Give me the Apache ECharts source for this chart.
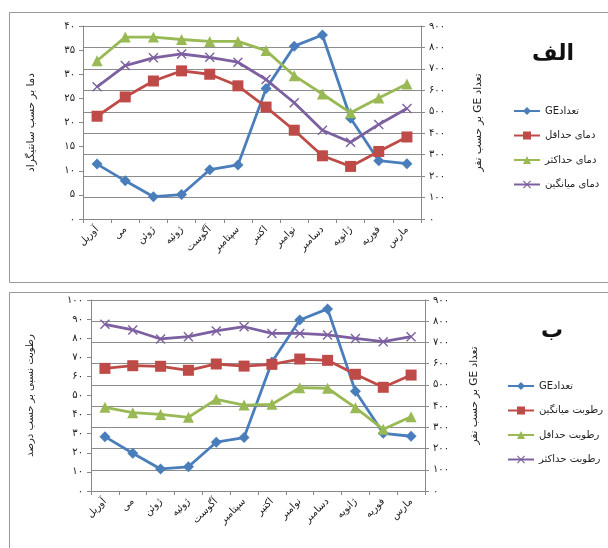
<!DOCTYPE html>
<html>
<head>
<meta charset="utf-8">
<script src="https://cdn.jsdelivr.net/npm/echarts@6/dist/echarts.min.js"></script>
<style>
html,body{margin:0;padding:0;background:#fff;}
#chart{width:608px;height:548px;direction:rtl;}
</style>
</head>
<body>
<div id="chart"></div>
<script>
// ---- data ----
const months = ['آوریل','می','ژوئن','ژوئیه','آگوست','سپتامبر','اکتبر','نوامبر','دسامبر','ژانویه','فوریه','مارس'];
const geCount = [256, 178, 104, 114, 230, 252, 608, 806, 858, 470, 272, 258];
const tempMin = [21.3, 25.3, 28.6, 30.7, 30.0, 27.6, 23.2, 18.4, 13.1, 10.9, 14.0, 17.0];
const tempMax = [32.8, 37.7, 37.7, 37.2, 36.8, 36.8, 34.9, 29.7, 25.9, 22.0, 25.1, 28.0];
const tempMean = [27.4, 31.8, 33.4, 34.2, 33.5, 32.5, 28.9, 24.1, 18.4, 15.9, 19.6, 22.9];
const humMean = [64.2, 65.6, 65.3, 63.2, 66.5, 65.4, 66.3, 69.1, 68.4, 61.1, 54.3, 60.7];
const humMin = [43.8, 41.0, 40.1, 38.6, 48.0, 45.0, 45.4, 54.1, 53.8, 43.6, 32.3, 38.9];
const humMax = [87.3, 84.3, 79.6, 80.8, 83.8, 86.0, 82.5, 82.5, 81.7, 79.9, 78.2, 80.8];
const legendTop = ['تعدادGE','دمای حداقل','دمای حداکثر','دمای میانگین'];
const legendBottom = ['تعدادGE','رطوبت میانگین','رطوبت حداقل','رطوبت حداکثر'];

const FONT = 'DejaVu Sans';
const faDigits = '۰۱۲۳۴۵۶۷۸۹';
function toFa(v){ return String(v).replace(/\d/g, d => faDigits[d]); }

const C_BLUE = '#4A7EBB', C_RED = '#BE4B48', C_GREEN = '#98B954', C_PURPLE = '#7D60A0';
const CROSS = 'path://M0,1 L1,0 L5,4 L9,0 L10,1 L6,5 L10,9 L9,10 L5,6 L1,10 L0,9 L4,5 Z';

const chart = echarts.init(document.getElementById('chart'), null, {renderer:'canvas'});

function yAxis(gridIndex, pos, min, max, interval, name, nameGap, split, nameSize){
  return {
    type:'value', gridIndex, position:pos, min, max, interval,
    name, nameLocation:'middle', nameRotate:90, nameGap,
    nameTextStyle:{fontFamily:FONT, fontSize:nameSize, color:'#222'},
    axisLine:{show:true, lineStyle:{color:'#888', width:1}},
    axisTick:{show:true, length:4, lineStyle:{color:'#888'}},
    axisLabel:{fontFamily:FONT, fontSize:10, color:'#222', formatter:v=>toFa(v), margin:8},
    splitLine:{show:split, lineStyle:{color:'#8c8c8c', width:1}}
  };
}
function xAxis(gridIndex){
  return {
    type:'category', gridIndex, data:months, boundaryGap:true,
    axisLine:{show:true, lineStyle:{color:'#888'}},
    axisTick:{show:true, length:4, lineStyle:{color:'#888'}},
    axisLabel:{fontFamily:FONT, fontSize:10, color:'#222', rotate:45, interval:0, margin:9},
    splitLine:{show:false}
  };
}
function line(name, data, xi, yi, color, symbol, size){
  return {
    type:'line', name, data, xAxisIndex:xi, yAxisIndex:yi,
    symbol, symbolSize:size, showSymbol:true,
    lineStyle:{color, width:2.8},
    itemStyle:{color},
    animation:false
  };
}

chart.setOption({
  animation:false,
  backgroundColor:'#fff',
  textStyle:{fontFamily:FONT},
  graphic:[
    {type:'rect', shape:{x:9.5, y:12.5, width:640, height:270}, style:{fill:'none', stroke:'#9a9a9a', lineWidth:1}},
    {type:'rect', shape:{x:9.5, y:292.5, width:640, height:280}, style:{fill:'none', stroke:'#9a9a9a', lineWidth:1}}
  ],
  title:[
    {text:'الف', left:527, top:38, textStyle:{fontFamily:FONT, fontSize:22, fontWeight:'bold', color:'#111'}},
    {text:'ب', left:536, top:315, textStyle:{fontFamily:FONT, fontSize:22, fontWeight:'bold', color:'#111'}}
  ],
  legend:[
    {data:legendTop, orient:'vertical', left:508, top:101, itemWidth:26, itemHeight:10, itemGap:14.5,
     textStyle:{fontFamily:FONT, fontSize:10, color:'#222'}, selectedMode:false},
    {data:legendBottom, orient:'vertical', left:502, top:376, itemWidth:26, itemHeight:10, itemGap:14.5,
     textStyle:{fontFamily:FONT, fontSize:10, color:'#222'}, selectedMode:false}
  ],
  grid:[
    {left:83, top:26, width:338, height:193},
    {left:91, top:300, width:334, height:191}
  ],
  xAxis:[xAxis(0), xAxis(1)],
  yAxis:[
    yAxis(0,'left',0,40,5,'دما بر حسب سانتیگراد',46,false,10.5),
    yAxis(0,'right',0,900,100,'تعداد GE بر حسب نفر',52,true,10.5),
    yAxis(1,'left',0,100,10,'رطوبت نسبی بر حسب درصد',56,false,10),
    yAxis(1,'right',0,900,100,'تعداد GE بر حسب نفر',44,true,10.5)
  ],
  series:[
    line('تعدادGE', geCount, 0, 1, C_BLUE, 'diamond', 11),
    line('دمای حداقل', tempMin, 0, 0, C_RED, 'rect', 11),
    line('دمای حداکثر', tempMax, 0, 0, C_GREEN, 'triangle', 11),
    line('دمای میانگین', tempMean, 0, 0, C_PURPLE, CROSS, 10),
    line('تعدادGE', geCount, 1, 3, C_BLUE, 'diamond', 11),
    line('رطوبت میانگین', humMean, 1, 2, C_RED, 'rect', 11),
    line('رطوبت حداقل', humMin, 1, 2, C_GREEN, 'triangle', 11),
    line('رطوبت حداکثر', humMax, 1, 2, C_PURPLE, CROSS, 10)
  ]
});
</script>
</body>
</html>
